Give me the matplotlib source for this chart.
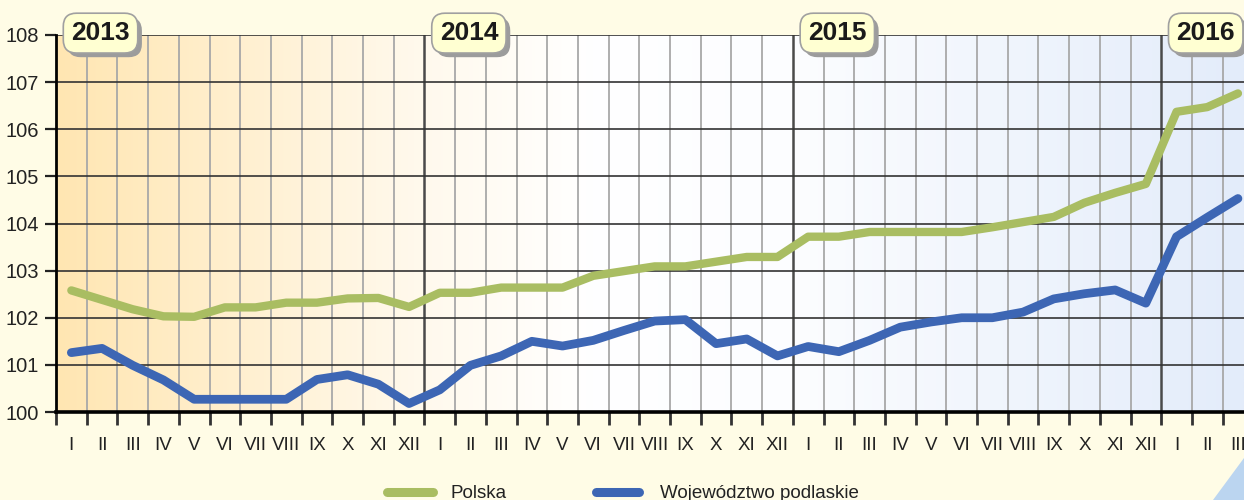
import matplotlib
matplotlib.use("Agg")
import matplotlib.pyplot as plt
import numpy as np
from matplotlib import font_manager
from matplotlib.colors import LinearSegmentedColormap
from matplotlib.patches import Polygon
from matplotlib.lines import Line2D
import matplotlib.patheffects as pe

# ---------------- data ----------------
years = ["2013", "2014", "2015", "2016"]
month_labels = ["I", "II", "III", "IV", "V", "VI", "VII", "VIII", "IX", "X", "XI", "XII"] * 3 + ["I", "II", "III"]

polska = [102.58, 102.38, 102.18, 102.03, 102.02, 102.22, 102.22, 102.32, 102.32, 102.41, 102.42, 102.23,
          102.53, 102.53, 102.64, 102.64, 102.64, 102.89, 102.99, 103.09, 103.09, 103.19, 103.29, 103.29,
          103.72, 103.72, 103.82, 103.82, 103.82, 103.82, 103.92, 104.03, 104.14, 104.44, 104.65, 104.84,
          106.37, 106.47, 106.76]
podlaskie = [101.26, 101.35, 100.99, 100.68, 100.27, 100.27, 100.27, 100.27, 100.69, 100.79, 100.59, 100.18,
             100.47, 100.99, 101.19, 101.50, 101.40, 101.52, 101.73, 101.93, 101.96, 101.45, 101.55, 101.19,
             101.39, 101.28, 101.52, 101.80, 101.91, 102.00, 102.00, 102.12, 102.40, 102.51, 102.59, 102.31,
             103.72, 104.13, 104.53]
series_names = ["Polska", "Województwo podlaskie"]

# ---------------- fonts ----------------
names = {f.name for f in font_manager.fontManager.ttflist}
narrow = "Liberation Sans Narrow" if "Liberation Sans Narrow" in names else "Liberation Sans"
regular = "Liberation Sans" if "Liberation Sans" in names else "DejaVu Sans"
tick_fs = 15 if narrow == "Liberation Sans Narrow" else 13.5
year_fs = 21 if narrow == "Liberation Sans Narrow" else 19

BG = "#FFFCE6"
GREEN = "#A9BD62"
BLUE = "#3D66B4"

fig = plt.figure(figsize=(12.44, 5.0), dpi=100, facecolor=BG)
W, H = 1244, 500
left_px, right_px, top_px, bot_px = 56, 1244, 35, 412
ax = fig.add_axes([left_px / W, 1 - bot_px / H, (right_px - left_px) / W, (bot_px - top_px) / H])

month_w = 30.7
xmax = (right_px - left_px) / month_w
ax.set_xlim(0, xmax)
ax.set_ylim(100, 108)

# gradient background
stops = [(0.0, "#FFE6B2"), (0.30, "#FFF9EC"), (0.45, "#FFFFFF"), (0.62, "#FCFDFF"), (1.0, "#E3ECFA")]
cmap = LinearSegmentedColormap.from_list("bg", stops)
grad = np.linspace(0, 1, 512).reshape(1, -1)
ax.imshow(grad, extent=[0, xmax, 100, 108], aspect="auto", cmap=cmap, zorder=0, interpolation="bicubic")

# grid
n_months = len(month_labels)
for m in range(1, int(xmax) + 1):
    if m % 12 == 0:
        ax.axvline(m, color="#4a4a4a", lw=1.8, zorder=1)
    else:
        ax.axvline(m, color="#a8a8a8", lw=1.3, zorder=1)
for v in range(101, 109):
    ax.axhline(v, color="#333333", lw=1.2, zorder=1)

x = np.arange(n_months) + 0.5
ax.plot(x, polska, color=GREEN, lw=6.0, solid_capstyle="round", solid_joinstyle="round", zorder=3)
ax.plot(x, podlaskie, color=BLUE, lw=6.3, solid_capstyle="round", solid_joinstyle="round", zorder=3)

# spines and ticks
for s in ["top", "right"]:
    ax.spines[s].set_visible(False)
ax.spines["left"].set_linewidth(2.0)
ax.spines["bottom"].set_linewidth(2.6)
ax.spines["left"].set_zorder(4)
ax.spines["bottom"].set_zorder(4)

ax.set_yticks(range(100, 109))
ax.set_yticklabels([str(v) for v in range(100, 109)], fontfamily=narrow, fontsize=14.5, color="#222222")
ax.tick_params(axis="y", length=8, width=1.6, color="#222222", pad=4)

ax.set_xticks(np.arange(0, int(xmax) + 1))
ax.set_xticklabels([])
ax.tick_params(axis="x", which="major", length=9, width=2.0, color="#333333", direction="out")
ax.set_xticks(x, minor=True)
ax.set_xticklabels(month_labels, minor=True, fontfamily=narrow, fontsize=tick_fs, color="#222222")
ax.tick_params(axis="x", which="minor", length=0, pad=18)

# year label boxes
for i, yr in enumerate(years):
    xc = i * 12 + 1.45
    yc = 108.04
    t = ax.text(xc, yc, yr, ha="center", va="center", fontsize=year_fs, fontweight="bold",
                fontfamily=narrow, color="#1a1a1a", zorder=6, clip_on=False,
                bbox=dict(boxstyle="round,pad=0.3,rounding_size=0.5", fc="#FFFFD2", ec="#a0a0a0", lw=1.2))
    t.get_bbox_patch().set_path_effects([
        pe.SimplePatchShadow(offset=(3.0, -3.0), shadow_rgbFace="#9c9c9c", alpha=1.0),
        pe.Normal()])

# legend
def fx(px):
    return px / W
def fy(py):
    return 1 - py / H
fig.add_artist(Line2D([fx(387), fx(433)], [fy(492), fy(492)], color=GREEN, lw=6.5, solid_capstyle="round"))
fig.add_artist(Line2D([fx(596), fx(639)], [fy(492), fy(492)], color=BLUE, lw=6.5, solid_capstyle="round"))
fig.text(fx(450), fy(498), series_names[0], fontfamily=regular, fontsize=13.5, color="#222222", va="baseline")
fig.text(fx(660), fy(498), series_names[1], fontfamily=regular, fontsize=13.5, color="#222222", va="baseline")

# decorative corner
fig.add_artist(Polygon([(fx(1213), fy(500)), (fx(1244), fy(458)), (fx(1244), fy(500))],
                       closed=True, transform=fig.transFigure, fc="#BBD5F0", ec="none"))

fig.savefig("out.png", dpi=100, facecolor=BG)
